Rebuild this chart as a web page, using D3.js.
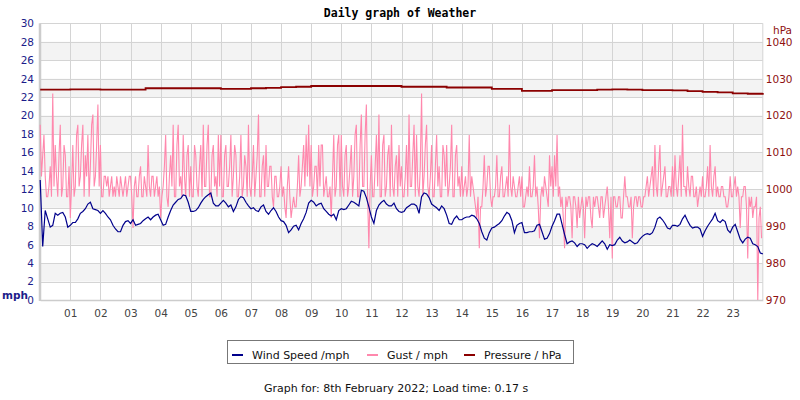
<!DOCTYPE html>
<meta charset="utf-8">
<script src="https://d3js.org/d3.v7.min.js"></script>
<style>
  body { margin: 0; background: #fff; }
  text { font-family: "DejaVu Sans", sans-serif; }
</style>
<div id="chart"></div>
<script>
// hour labels along the bottom
var hourLabels = ["01","02","03","04","05","06","07","08","09","10","11","12",
                  "13","14","15","16","17","18","19","20","21","22","23"];
var mphTicks = [0,2,4,6,8,10,12,14,16,18,20,22,24,26,28,30];
var hpaTicks = [970,980,990,1000,1010,1020,1030,1040];

// wind speed, mph, one reading every 5 minutes from 00:00 (12 per hour)
var windSpeed = [
  13.0, 5.8, 9.7, 8.8, 7.9, 8.1, 9.4, 9.2, 9.4, 9.5, 9.0, 7.9,
  8.1, 8.4, 8.4, 8.8, 9.4, 9.6, 9.9, 10.4, 10.6, 9.9, 9.8, 9.7,
  9.4, 9.7, 9.4, 9.0, 8.7, 8.1, 7.7, 7.4, 7.4, 8.1, 8.5, 8.6,
  8.3, 8.7, 8.1, 8.2, 8.3, 8.6, 8.8, 9.0, 8.7, 9.0, 9.2, 9.3,
  8.7, 8.1, 8.2, 9.0, 9.7, 10.3, 10.6, 10.9, 11.0, 11.4, 11.3, 10.6,
  9.6, 9.6, 9.7, 10.0, 10.5, 10.9, 11.2, 11.4, 11.6, 10.5, 10.2, 10.2,
  10.5, 10.8, 10.5, 10.1, 10.3, 9.6, 10.1, 10.9, 11.2, 11.1, 10.6, 10.2,
  9.9, 10.0, 9.7, 9.6, 10.1, 10.3, 9.6, 9.3, 9.7, 10.0, 9.6, 9.0,
  8.6, 8.5, 8.1, 7.3, 7.6, 8.0, 8.1, 7.6, 8.3, 8.8, 9.5, 10.5,
  10.8, 10.6, 10.2, 10.4, 10.5, 9.9, 9.6, 9.3, 9.1, 9.3, 8.7, 9.7,
  9.9, 9.8, 9.9, 10.3, 10.7, 10.6, 10.4, 10.2, 11.9, 11.8, 11.1, 10.1,
  9.0, 8.3, 9.7, 10.3, 10.6, 10.8, 10.4, 10.2, 10.2, 10.5, 9.9, 9.6,
  9.5, 9.6, 10.0, 10.2, 10.4, 10.4, 10.2, 9.4, 11.2, 11.6, 11.5, 11.1,
  10.4, 10.2, 10.0, 9.7, 10.2, 9.9, 9.2, 8.3, 8.2, 8.8, 9.1, 8.7,
  8.7, 8.9, 9.0, 9.0, 9.2, 9.1, 8.8, 8.3, 7.4, 6.7, 6.5, 7.3,
  7.8, 7.9, 8.1, 8.3, 8.6, 9.1, 9.5, 9.3, 8.6, 7.3, 8.1, 8.3,
  8.4, 7.3, 7.3, 7.4, 7.4, 7.5, 8.1, 8.2, 7.4, 6.6, 6.7, 7.2,
  8.0, 8.6, 9.3, 9.3, 8.2, 7.1, 6.1, 6.3, 6.4, 6.2, 5.8, 6.1,
  6.1, 6.0, 5.6, 5.9, 6.1, 6.0, 5.8, 6.1, 6.4, 6.1, 5.5, 6.0,
  5.9, 6.0, 6.5, 6.8, 6.4, 6.2, 6.3, 6.5, 6.3, 6.1, 6.2, 6.6,
  6.9, 7.1, 7.2, 7.1, 7.3, 7.9, 8.8, 9.0, 8.7, 8.3, 7.8, 7.7,
  8.1, 8.1, 8.0, 8.2, 8.8, 9.2, 8.6, 8.1, 7.8, 7.9, 7.9, 7.7,
  6.9, 7.5, 8.0, 8.4, 8.8, 9.4, 8.6, 8.4, 8.7, 8.5, 7.6, 7.3,
  7.9, 8.2, 7.4, 6.6, 6.2, 6.6, 6.8, 6.7, 6.1, 6.0, 5.8, 5.1,
  5.0
];

// gust, mph, one reading every 2.5 minutes (24 per hour)
var gust = [
  19.0, 13.4, 15.7, 17.9, 13.4, 11.2, 11.2, 12.3, 14.5, 11.2, 22.4, 12.3, 16.8, 13.4, 11.2, 15.7, 19.0, 11.2, 12.3, 16.8, 15.7, 11.2, 11.2, 14.5,
  8.9, 12.3, 16.8, 11.2, 12.3, 17.9, 19.0, 12.3, 13.4, 16.8, 19.0, 11.2, 15.7, 13.4, 17.9, 11.2, 14.5, 19.0, 20.1, 12.3, 13.4, 16.8, 21.2, 12.3,
  16.8, 11.2, 11.2, 13.4, 13.4, 12.3, 13.4, 11.2, 12.3, 13.4, 11.2, 12.3, 11.2, 13.4, 12.3, 11.2, 13.4, 12.3, 11.2, 12.3, 13.4, 11.2, 12.3, 13.4,
  13.4, 11.2, 7.8, 12.3, 13.4, 11.2, 11.2, 13.4, 14.5, 11.2, 11.2, 13.4, 12.3, 11.2, 16.8, 12.3, 11.2, 13.4, 13.4, 11.2, 12.3, 13.4, 11.2, 12.3,
  8.9, 11.2, 12.3, 14.5, 17.9, 11.2, 10.1, 13.4, 15.7, 12.3, 19.0, 11.2, 11.2, 16.8, 19.0, 12.3, 13.4, 11.2, 17.9, 13.4, 11.2, 15.7, 16.8, 11.2,
  14.5, 11.2, 11.2, 16.8, 15.7, 12.3, 11.2, 14.5, 16.8, 11.2, 19.0, 12.3, 12.3, 16.8, 19.0, 11.2, 11.2, 15.7, 16.8, 12.3, 13.4, 11.2, 17.9, 12.3,
  17.9, 11.2, 11.2, 15.7, 16.8, 12.3, 12.3, 14.5, 17.9, 11.2, 13.4, 16.8, 15.7, 11.2, 11.2, 13.4, 17.9, 11.2, 12.3, 15.7, 14.5, 11.2, 19.0, 12.3,
  11.2, 13.4, 16.8, 11.2, 13.4, 15.7, 20.1, 11.2, 11.2, 14.5, 15.7, 11.2, 16.8, 12.3, 12.3, 14.5, 14.5, 11.2, 10.1, 13.4, 13.4, 11.2, 11.2, 12.3,
  14.5, 11.2, 12.3, 10.1, 8.9, 12.3, 14.5, 11.2, 8.9, 10.1, 11.2, 10.1, 10.1, 12.3, 15.7, 11.2, 12.3, 14.5, 16.8, 12.3, 17.9, 13.4, 19.0, 12.3,
  16.8, 11.2, 12.3, 14.5, 14.5, 11.2, 16.8, 12.3, 16.8, 16.8, 11.2, 12.3, 13.4, 11.2, 11.2, 12.3, 8.9, 13.4, 17.9, 11.2, 12.3, 16.8, 17.9, 11.2,
  17.9, 12.3, 11.2, 15.7, 16.8, 11.2, 12.3, 14.5, 16.8, 11.2, 13.4, 17.9, 19.0, 11.2, 11.2, 16.8, 20.1, 12.3, 12.3, 17.9, 21.2, 11.2, 5.6, 12.3,
  15.7, 11.2, 11.2, 14.5, 17.9, 12.3, 20.1, 11.2, 11.2, 16.8, 17.9, 11.2, 12.3, 15.7, 16.8, 11.2, 19.0, 12.3, 11.2, 14.5, 15.7, 11.2, 16.8, 12.3,
  14.5, 11.2, 11.2, 13.4, 16.8, 11.2, 20.1, 12.3, 12.3, 15.7, 19.0, 11.2, 17.9, 12.3, 11.2, 14.5, 22.4, 11.2, 13.4, 16.8, 19.0, 12.3, 11.2, 13.4,
  16.8, 11.2, 11.2, 14.5, 17.9, 12.3, 14.5, 11.2, 11.2, 16.8, 15.7, 12.3, 16.8, 11.2, 12.3, 14.5, 19.0, 11.2, 11.2, 15.7, 16.8, 12.3, 13.4, 11.2,
  14.5, 11.2, 12.3, 13.4, 11.2, 12.3, 17.9, 11.2, 13.4, 12.3, 11.2, 10.1, 8.9, 11.2, 5.6, 10.1, 10.1, 12.3, 15.7, 11.2, 12.3, 14.5, 14.5, 11.2,
  10.1, 11.2, 11.2, 12.3, 15.7, 11.2, 11.2, 13.4, 14.5, 11.2, 11.2, 12.3, 13.4, 11.2, 19.0, 12.3, 11.2, 13.4, 12.3, 11.2, 11.2, 12.3, 13.4, 11.2,
  13.4, 10.1, 10.1, 11.2, 12.3, 11.2, 14.5, 11.2, 11.2, 12.3, 15.7, 11.2, 12.3, 10.1, 6.7, 11.2, 12.3, 11.2, 13.4, 12.3, 11.2, 10.1, 15.7, 12.3,
  14.5, 11.2, 15.7, 12.3, 17.9, 11.2, 12.3, 10.1, 11.2, 8.9, 5.6, 11.2, 10.1, 11.2, 11.2, 10.1, 6.7, 11.2, 11.2, 10.1, 7.8, 11.2, 8.9, 10.1,
  11.2, 10.1, 6.7, 11.2, 10.1, 11.2, 11.2, 8.9, 7.8, 11.2, 10.1, 11.2, 11.2, 10.1, 8.9, 11.2, 11.2, 8.9, 10.1, 11.2, 12.3, 10.1, 6.7, 11.2,
  4.5, 11.2, 11.2, 10.1, 10.1, 11.2, 11.2, 8.9, 8.9, 11.2, 13.4, 11.2, 11.2, 10.1, 10.1, 11.2, 6.7, 10.1, 11.2, 11.2, 10.1, 11.2, 11.2, 10.1,
  10.1, 11.2, 11.2, 12.3, 13.4, 11.2, 12.3, 13.4, 14.5, 11.2, 16.8, 12.3, 11.2, 14.5, 16.8, 11.2, 12.3, 13.4, 14.5, 11.2, 11.2, 12.3, 12.3, 11.2,
  14.5, 11.2, 15.7, 12.3, 11.2, 13.4, 15.7, 11.2, 19.0, 12.3, 12.3, 11.2, 14.5, 12.3, 11.2, 13.4, 13.4, 11.2, 11.2, 12.3, 10.1, 11.2, 12.3, 11.2,
  13.4, 11.2, 11.2, 12.3, 14.5, 11.2, 16.8, 12.3, 11.2, 13.4, 14.5, 11.2, 12.3, 11.2, 11.2, 12.3, 12.3, 11.2, 11.2, 10.1, 10.1, 11.2, 13.4, 11.2,
  11.2, 12.3, 13.4, 11.2, 12.3, 11.2, 7.8, 11.2, 11.2, 12.3, 12.3, 10.1, 4.5, 11.2, 10.1, 11.2, 8.9, 10.1, 10.1, 11.2, 0, 8.9, 10.1, 6.7
];

// pressure, hPa, every 30 minutes
var pressure = [
  1027.0, 1027.0, 1027.1, 1027.1, 1027.0, 1027.0, 1027.0,
  1027.4, 1027.4, 1027.4, 1027.4, 1027.4,
  1027.2, 1027.2, 1027.4, 1027.5, 1027.7, 1027.8,
  1028.0, 1028.0, 1028.0, 1028.0, 1028.0, 1028.0,
  1027.8, 1027.8, 1027.8, 1027.6, 1027.6, 1027.6,
  1027.2, 1027.2, 1026.7, 1026.7,
  1026.9, 1026.9, 1026.9, 1027.0, 1027.1, 1027.0,
  1026.9, 1026.9, 1026.8, 1026.6, 1026.4, 1026.3,
  1026.0, 1025.9, 1026.1
];

var width = 800, height = 400;
var plot = { left: 40.2, right: 762.8, top: 23.3, bottom: 300 };

var svg = d3.select('#chart').append('svg')
    .attr('width', width)
    .attr('height', height);

var x = d3.scaleLinear().domain([0, 24]).range([plot.left, plot.right]);
var y = d3.scaleLinear().domain([0, 30]).range([plot.bottom, plot.top]);
var yP = d3.scaleLinear().domain([970, 1045]).range([plot.bottom, plot.top]);

// alternating grey bands
var bands = mphTicks.filter(d => d < 30 && d % 4 === 2);
svg.append('g').selectAll('rect').data(bands).enter().append('rect')
    .attr('x', plot.left)
    .attr('width', plot.right - plot.left)
    .attr('y', d => y(d + 2))
    .attr('height', d => y(d) - y(d + 2))
    .attr('fill', '#f3f3f3');

// grid
var grid = svg.append('g').attr('stroke', '#d4d4d4').attr('stroke-width', 1);
grid.selectAll('.h').data(mphTicks).enter().append('line')
    .attr('x1', plot.left).attr('x2', plot.right)
    .attr('y1', d => Math.round(y(d)) + 0.5).attr('y2', d => Math.round(y(d)) + 0.5);
grid.selectAll('.v').data(hourLabels).enter().append('line')
    .attr('x1', (d, i) => Math.round(x(i + 1)) + 0.5)
    .attr('x2', (d, i) => Math.round(x(i + 1)) + 0.5)
    .attr('y1', plot.top).attr('y2', plot.bottom);
grid.append('line')
    .attr('x1', plot.right).attr('x2', plot.right)
    .attr('y1', plot.top).attr('y2', plot.bottom);
svg.append('line')
    .attr('x1', 40).attr('x2', 40)
    .attr('y1', plot.top).attr('y2', plot.bottom + 1)
    .attr('stroke', '#cccccc').attr('stroke-width', 2.5);

// left axis
var yAxis = d3.axisLeft(y).tickValues(mphTicks).tickSize(0).tickPadding(4);
svg.append('g')
    .attr('transform', 'translate(38,0)')
    .call(yAxis)
    .call(g => g.select('.domain').remove())
    .selectAll('text')
    .attr('fill', '#1c1c8a')
    .style('font-size', '10.5px')
    .style('font-family', '"DejaVu Sans", sans-serif');

// right axis
var yAxisR = d3.axisRight(yP).tickValues(hpaTicks).tickFormat(d3.format('d'))
    .tickSize(0).tickPadding(3);
svg.append('g')
    .attr('transform', `translate(${plot.right},0)`)
    .call(yAxisR)
    .call(g => g.select('.domain').remove())
    .selectAll('text')
    .attr('fill', '#8e1010')
    .style('font-size', '10.5px')
    .style('font-family', '"DejaVu Sans", sans-serif');

// bottom axis
var xAxis = d3.axisBottom(x)
    .tickValues(d3.range(1, 24))
    .tickFormat((d, i) => hourLabels[i])
    .tickSize(0).tickPadding(10);
svg.append('g')
    .attr('transform', `translate(0,${plot.bottom})`)
    .call(xAxis)
    .call(g => g.select('.domain').attr('stroke', '#cccccc').attr('stroke-width', 1.5))
    .selectAll('text')
    .attr('fill', '#444')
    .style('font-size', '10.5px')
    .style('font-family', '"DejaVu Sans", sans-serif');

svg.append('text')
    .attr('x', 2).attr('y', 299)
    .attr('fill', '#1c1c8a')
    .style('font-size', '10.5px')
    .style('font-weight', 'bold')
    .text('mph');
svg.append('text')
    .attr('x', 773).attr('y', 34)
    .attr('fill', '#8e1010')
    .style('font-size', '10.5px')
    .text('hPa');

// title
svg.append('text')
    .attr('x', 400).attr('y', 17)
    .attr('text-anchor', 'middle')
    .style('font-family', '"DejaVu Sans Mono", monospace')
    .style('font-weight', 'bold')
    .style('font-size', '11.5px')
    .text('Daily graph of Weather');

// series
var gustLine = d3.line().x((d, i) => x(i / 24)).y(d => y(d));
var windLine = d3.line().x((d, i) => x(i / 12)).y(d => y(d));
var pressLine = d3.line().x((d, i) => x(i / 2)).y(d => yP(d)).curve(d3.curveStepAfter);

svg.append('path').datum(gust)
    .attr('d', gustLine)
    .attr('fill', 'none')
    .attr('stroke', '#ff88ad')
    .attr('stroke-width', 1.1);

svg.append('path').datum(windSpeed)
    .attr('d', windLine)
    .attr('fill', 'none')
    .attr('stroke', '#00008b')
    .attr('stroke-width', 1.2);

svg.append('path').datum(pressure)
    .attr('d', pressLine)
    .attr('fill', 'none')
    .attr('stroke', '#8b0000')
    .attr('stroke-width', 1.8);

// legend
var legendItems = ["Wind Speed /mph", "Gust / mph", "Pressure / hPa"];
var legendColors = ["#00008b", "#ff88ad", "#8b0000"];
var legendX = [232, 367, 464];
svg.append('rect')
    .attr('x', 227.5).attr('y', 340.5)
    .attr('width', 346).attr('height', 23)
    .attr('fill', 'none').attr('stroke', '#777').attr('stroke-width', 1);
var leg = svg.append('g').selectAll('g').data(legendItems).enter().append('g');
leg.append('line')
    .attr('x1', (d, i) => legendX[i]).attr('x2', (d, i) => legendX[i] + 11)
    .attr('y1', 355).attr('y2', 355)
    .attr('stroke', (d, i) => legendColors[i]).attr('stroke-width', 2);
leg.append('text')
    .attr('x', (d, i) => legendX[i] + 20).attr('y', 358.5)
    .style('font-size', '11px')
    .attr('fill', '#111')
    .text(d => d);

svg.append('text')
    .attr('x', 396).attr('y', 392)
    .attr('text-anchor', 'middle')
    .style('font-size', '11px')
    .attr('fill', '#111')
    .text('Graph for: 8th February 2022; Load time: 0.17 s');
</script>
